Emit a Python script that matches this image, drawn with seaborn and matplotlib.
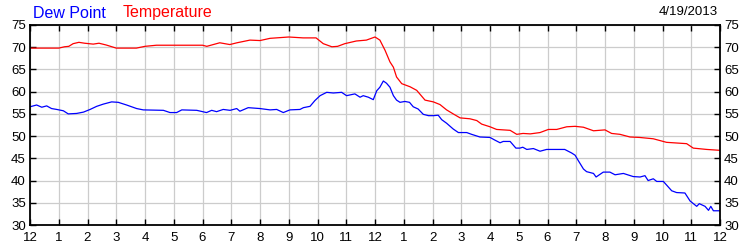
import matplotlib
matplotlib.use("Agg")
import matplotlib.pyplot as plt
import seaborn as sns
import pandas as pd

# ---- data (hours since midnight, degrees F) ----
temp_hours = [0, 1.0, 1.2, 1.35, 1.5, 1.7, 1.9, 2.2, 2.4, 2.65, 2.9, 3.0, 3.7, 4.0, 4.4, 6.0,
              6.15, 6.6, 6.95, 7.2, 7.65, 8.0, 8.35, 9.0, 9.5, 9.95, 10.2, 10.5, 10.7, 10.95,
              11.35, 11.7, 12.0, 12.17, 12.35, 12.52, 12.64, 12.75, 12.93, 13.22, 13.45, 13.74,
              14.03, 14.26, 14.49, 14.72, 14.96, 15.3, 15.54, 15.71, 16.0, 16.23, 16.7, 16.93,
              17.15, 17.4, 17.74, 18.03, 18.32, 18.67, 18.96, 19.25, 19.6, 20.0, 20.23, 20.52,
              20.87, 21.2, 21.68, 22.14, 22.84, 23.07, 23.54, 24.0]
temp_values = [69.8, 69.8, 70.1, 70.2, 70.8, 71.1, 70.9, 70.7, 70.9, 70.5, 70.0, 69.8, 69.8,
               70.2, 70.45, 70.45, 70.2, 71.0, 70.6, 71.0, 71.6, 71.5, 72.0, 72.3, 72.1, 72.1,
               70.8, 70.1, 70.2, 70.8, 71.4, 71.6, 72.3, 71.6, 69.3, 66.7, 65.5, 63.3, 61.8,
               61.1, 60.3, 58.1, 57.7, 57.1, 55.9, 55.0, 54.1, 53.9, 53.5, 52.7, 52.1, 51.5,
               51.3, 50.4, 50.6, 50.5, 50.8, 51.5, 51.5, 52.1, 52.2, 52.0, 51.2, 51.4, 50.6,
               50.4, 49.8, 49.7, 49.4, 48.6, 48.3, 47.3, 47.0, 46.8]

dew_hours = [0, 0.23, 0.41, 0.58, 0.75, 0.93, 1.16, 1.33, 1.62, 1.86, 2.09, 2.32, 2.55, 2.84,
             3.07, 3.36, 3.71, 3.94, 4.64, 4.87, 5.1, 5.28, 5.8, 6.14, 6.32, 6.49, 6.72, 6.96,
             7.19, 7.3, 7.59, 8.0, 8.35, 8.58, 8.81, 9.04, 9.39, 9.51, 9.74, 9.91, 10.09, 10.32,
             10.55, 10.84, 11.01, 11.3, 11.48, 11.59, 11.77, 11.94, 12.06, 12.17, 12.29, 12.4,
             12.52, 12.64, 12.75, 12.87, 13.04, 13.2, 13.33, 13.5, 13.68, 13.86, 14.03, 14.2,
             14.32, 14.49, 14.72, 14.9, 15.19, 15.36, 15.65, 16.0, 16.17, 16.35, 16.46, 16.7,
             16.9, 17.04, 17.14, 17.28, 17.51, 17.74, 17.97, 18.6, 18.84, 18.96, 19.07, 19.25,
             19.36, 19.6, 19.69, 19.94, 20.17, 20.35, 20.64, 20.98, 21.22, 21.39, 21.5, 21.68,
             21.8, 22.03, 22.32, 22.49, 22.78, 22.96, 23.19, 23.28, 23.48, 23.6, 23.68, 23.77,
             24.0]
dew_values = [56.6, 57.0, 56.5, 56.8, 56.2, 56.0, 55.7, 55.0, 55.1, 55.4, 56.0, 56.7, 57.2,
              57.7, 57.6, 57.0, 56.2, 55.9, 55.8, 55.3, 55.3, 55.9, 55.8, 55.3, 55.8, 55.5,
              56.0, 55.8, 56.2, 55.6, 56.4, 56.2, 55.9, 56.0, 55.3, 55.9, 56.0, 56.4, 56.7,
              58.0, 59.1, 59.85, 59.7, 59.85, 59.1, 59.5, 58.75, 59.1, 58.75, 58.2, 60.2, 61.0,
              62.4, 61.9, 61.0, 59.1, 58.1, 57.6, 57.8, 57.6, 56.6, 56.1, 54.9, 54.6, 54.6,
              54.7, 53.7, 52.9, 51.6, 50.8, 50.8, 50.4, 49.8, 49.7, 49.1, 48.5, 48.8, 48.8,
              47.3, 47.3, 47.5, 47.0, 47.2, 46.6, 47.0, 47.0, 46.2, 45.7, 44.5, 42.6, 42.0,
              41.6, 40.8, 41.9, 41.9, 41.3, 41.6, 40.9, 40.8, 41.1, 40.0, 40.4, 39.8, 39.8,
              37.7, 37.3, 37.2, 35.4, 34.2, 34.8, 34.2, 33.3, 34.2, 33.2, 33.2]

hour_labels = ["12", "1", "2", "3", "4", "5", "6", "7", "8", "9", "10", "11",
               "12", "1", "2", "3", "4", "5", "6", "7", "8", "9", "10", "11", "12"]
y_ticks = [30, 35, 40, 45, 50, 55, 60, 65, 70, 75]
series_names = ["Dew Point", "Temperature"]
series_colors = ["#0000ff", "#ff0000"]
date_label = "4/19/2013"

# ---- plotting ----
sns.set_style("white")
plt.rcParams["font.family"] = ["Liberation Sans", "DejaVu Sans"]

temp_df = pd.DataFrame({"hour": temp_hours, "value": temp_values})
dew_df = pd.DataFrame({"hour": dew_hours, "value": dew_values})

fig = plt.figure(figsize=(7.5, 2.5), dpi=100)
ax = fig.add_axes([30 / 750, 25 / 250, 690 / 750, 200 / 250])

ax.set_axisbelow(True)
ax.grid(True, color="#cccccc", linewidth=0.9)

sns.lineplot(data=dew_df, x="hour", y="value", ax=ax, color=series_colors[0],
             linewidth=0.9, sort=False, estimator=None)
sns.lineplot(data=temp_df, x="hour", y="value", ax=ax, color=series_colors[1],
             linewidth=0.9, sort=False, estimator=None)

ax.set_xlim(0, 24)
ax.set_ylim(30, 75)
ax.set_xticks(range(25))
ax.set_xticklabels(hour_labels)
ax.set_yticks(y_ticks)
ax.set_xlabel("")
ax.set_ylabel("")

for s in ax.spines.values():
    s.set_visible(True)
    s.set_color("black")
    s.set_linewidth(1.3)

ax.tick_params(axis="both", direction="in", length=4, width=1.0, color="black",
               labelsize=9.5, labelcolor="black")
ax.tick_params(axis="x", top=True, bottom=True, pad=5)
ax.tick_params(axis="y", left=True, right=True, labelleft=True, labelright=True, pad=3)

fig.text(33 / 750, 1 - 13 / 250, series_names[0], color=series_colors[0],
         fontsize=11.5, va="center", ha="left")
fig.text(123 / 750, 1 - 13 / 250, series_names[1], color=series_colors[1],
         fontsize=11.5, va="center", ha="left")
fig.text(718 / 750, 1 - 12 / 250, date_label, color="black",
         fontsize=9.5, va="center", ha="right")

fig.savefig("out.png", dpi=100, facecolor="white")
